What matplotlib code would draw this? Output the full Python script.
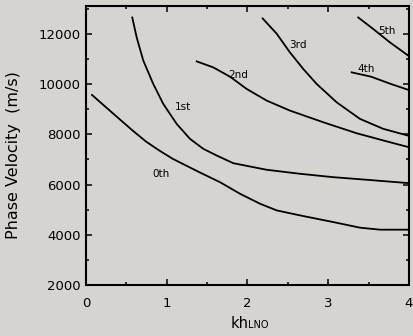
import numpy as np
import matplotlib.pyplot as plt
from matplotlib.ticker import MultipleLocator

# =========================
# DATA
# =========================
x0 = [0.074, 0.248, 0.412, 0.578, 0.743, 0.908, 1.074, 1.238, 1.403, 1.659, 1.907,
      2.155, 2.362, 2.65, 3.063, 3.393, 3.641, 4.0]
y0 = [9567, 9075, 8615, 8150, 7714, 7357, 7027, 6762, 6496, 6099, 5639,
      5242, 4976, 4778, 4512, 4290, 4210, 4210]

x1 = [0.573, 0.628, 0.710, 0.833, 0.957, 1.123, 1.288, 1.453, 1.619, 1.824, 2.238,
      2.65, 3.063, 3.476, 4.0]
y1 = [12646, 11852, 10928, 10003, 9210, 8416, 7821, 7424, 7158, 6853, 6591,
      6432, 6297, 6194, 6059]

x2 = [1.371, 1.576, 1.783, 1.990, 2.238, 2.526, 2.939, 3.352, 3.765, 4.0]
y2 = [10900, 10662, 10293, 9805, 9341, 8944, 8480, 8043, 7686, 7488]

x3 = [2.188, 2.362, 2.526, 2.691, 2.857, 3.105, 3.393, 3.682, 4.0]
y3 = [12607, 12000, 11257, 10599, 10003, 9273, 8615, 8218, 7940]

x4 = [3.290, 3.53, 3.765, 4.0]
y4 = [10464, 10293, 10015, 9760]

x5 = [3.372, 3.558, 3.765, 4.0]
y5 = [12646, 12186, 11654, 11110]

mode_labels = ["0th", "1st", "2nd", "3rd", "4th", "5th"]
label_x = [0.929, 1.205, 1.886, 2.629, 3.470, 3.728]
label_y = [6297, 8972, 10241, 11416, 10492, 11987]

# =========================
# PLOT
# =========================
bg = "#d6d4ce"
plt.rcParams['font.family'] = ['DejaVu Sans']

fig = plt.figure(figsize=(4.13, 3.36), dpi=100, facecolor=bg)
ax = fig.add_axes([0.2082, 0.151, 0.782, 0.831], facecolor=bg)

for xs, ys in [(x0, y0), (x1, y1), (x2, y2), (x3, y3), (x4, y4), (x5, y5)]:
    ax.plot(xs, ys, color="black", lw=1.3, solid_joinstyle="round")

for t, lx, ly in zip(mode_labels, label_x, label_y):
    ax.text(lx, ly, t, fontsize=7.5, ha="center", va="baseline")

ax.set_xlim(0, 4)
ax.set_ylim(2000, 13100)
ax.xaxis.set_major_locator(MultipleLocator(1))
ax.xaxis.set_minor_locator(MultipleLocator(0.5))
ax.yaxis.set_major_locator(MultipleLocator(2000))
ax.yaxis.set_minor_locator(MultipleLocator(1000))
ax.tick_params(which="both", direction="in", top=True, right=True, labelsize=9.5, width=1.1)
ax.tick_params(which="major", length=4.3)
ax.tick_params(which="minor", length=2.2)
ax.tick_params(axis="x", pad=8.3)
ax.tick_params(axis="y", pad=4)
for s in ax.spines.values():
    s.set_linewidth(1.5)

# x label: "kh" with smaller "LNO" on the same baseline
fig.text(248.3 / 413, 8 / 336, "kh", fontsize=10.5, ha="right", va="baseline")
fig.text(248.3 / 413, 8 / 336, "LNO", fontsize=7, ha="left", va="baseline")

ax.set_ylabel("Phase Velocity  (m/s)", fontsize=11.5)
ax.yaxis.set_label_coords(-0.202, 0.466)

fig.savefig("out.png", dpi=100, facecolor=bg)
